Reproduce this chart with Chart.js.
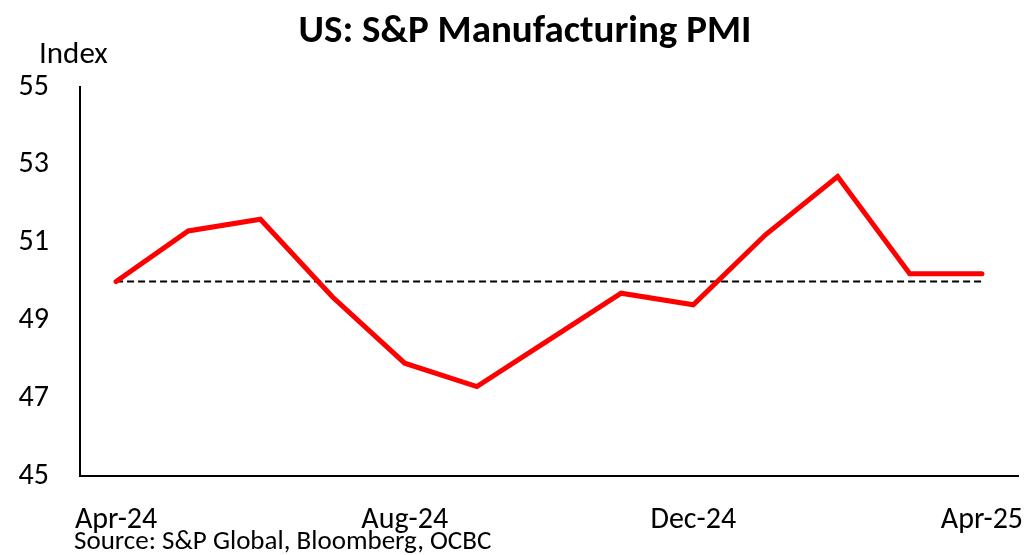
<!DOCTYPE html>
<html><head><meta charset="utf-8">
<script src="https://cdn.jsdelivr.net/npm/chart.js@4"></script>
<style>html,body{margin:0;padding:0;background:#fff}#wrap{width:1026px;height:555px}</style>
</head><body><div id="wrap"><canvas id="c" width="1026" height="555"></canvas></div>
<script>
const categories = ["Apr-24","May-24","Jun-24","Jul-24","Aug-24","Sep-24","Oct-24","Nov-24","Dec-24","Jan-25","Feb-25","Mar-25","Apr-25"];
const pmiValues = [50.0,51.3,51.6,49.6,47.9,47.3,48.5,49.7,49.4,51.2,52.7,50.2,50.2];
const thresholdValues = [50,50,50,50,50,50,50,50,50,50,50,50,50];
const yTicks = [45,47,49,51,53,55];
const titleText = "US: S&P Manufacturing PMI";
const yLabel = "Index";
const sourceText = "Source: S&P Global, Bloomberg, OCBC";

const FONT = "Carlito, Calibri, Lato, sans-serif";

const textPlugin = {
  id: 'texts',
  afterDraw(chart) {
    const ctx = chart.ctx;
    ctx.save();
    ctx.fillStyle = '#000';
    ctx.textBaseline = 'middle';
    ctx.font = 'bold 39px ' + FONT;
    ctx.textAlign = 'center';
    ctx.fillText(titleText, 525, 32);
    ctx.font = '31px ' + FONT;
    ctx.textAlign = 'left';
    ctx.fillText(yLabel, 39, 55);
    ctx.font = '27px ' + FONT;
    ctx.fillText(sourceText, 74, 542);
    ctx.restore();
  }
};

new Chart(document.getElementById('c'), {
  type: 'line',
  data: {
    labels: categories,
    datasets: [
      {data: pmiValues, borderColor: '#ff0000', borderWidth: 5, pointRadius: 0, tension: 0, fill: false, order: 1, borderCapStyle: 'round'},
      {data: thresholdValues, borderColor: '#000000', borderWidth: 2, borderDash: [7,4], pointRadius: 0, fill: false, order: 2}
    ]
  },
  options: {
    responsive: false,
    animation: false,
    devicePixelRatio: 1,
    layout: {padding: {top: 87, right: 8, left: 0, bottom: 0}},
    plugins: {legend: {display: false}, title: {display: false}, tooltip: {enabled: false}},
    scales: {
      x: {
        offset: true,
        grid: {display: false, drawTicks: false},
        border: {display: true, color: '#000', width: 2},
        ticks: {
          autoSkip: false, maxRotation: 0, padding: 26, color: '#000',
          font: {family: FONT, size: 30},
          callback: (v, i) => (i % 4 === 0 ? categories[i] : '')
        },
        afterFit: s => { s.height = 79; s.paddingLeft = 0; s.paddingRight = 0; }
      },
      y: {
        min: 45, max: 55,
        afterBuildTicks: s => { s.ticks = yTicks.map(v => ({value: v})); },
        grid: {display: false, drawTicks: false},
        border: {display: true, color: '#000', width: 2},
        ticks: {padding: 31, color: '#000', font: {family: FONT, size: 30}},
        afterFit: s => { s.width = 80; s.paddingTop = 0; s.paddingBottom = 0; }
      }
    }
  },
  plugins: [textPlugin]
});
</script></body></html>
